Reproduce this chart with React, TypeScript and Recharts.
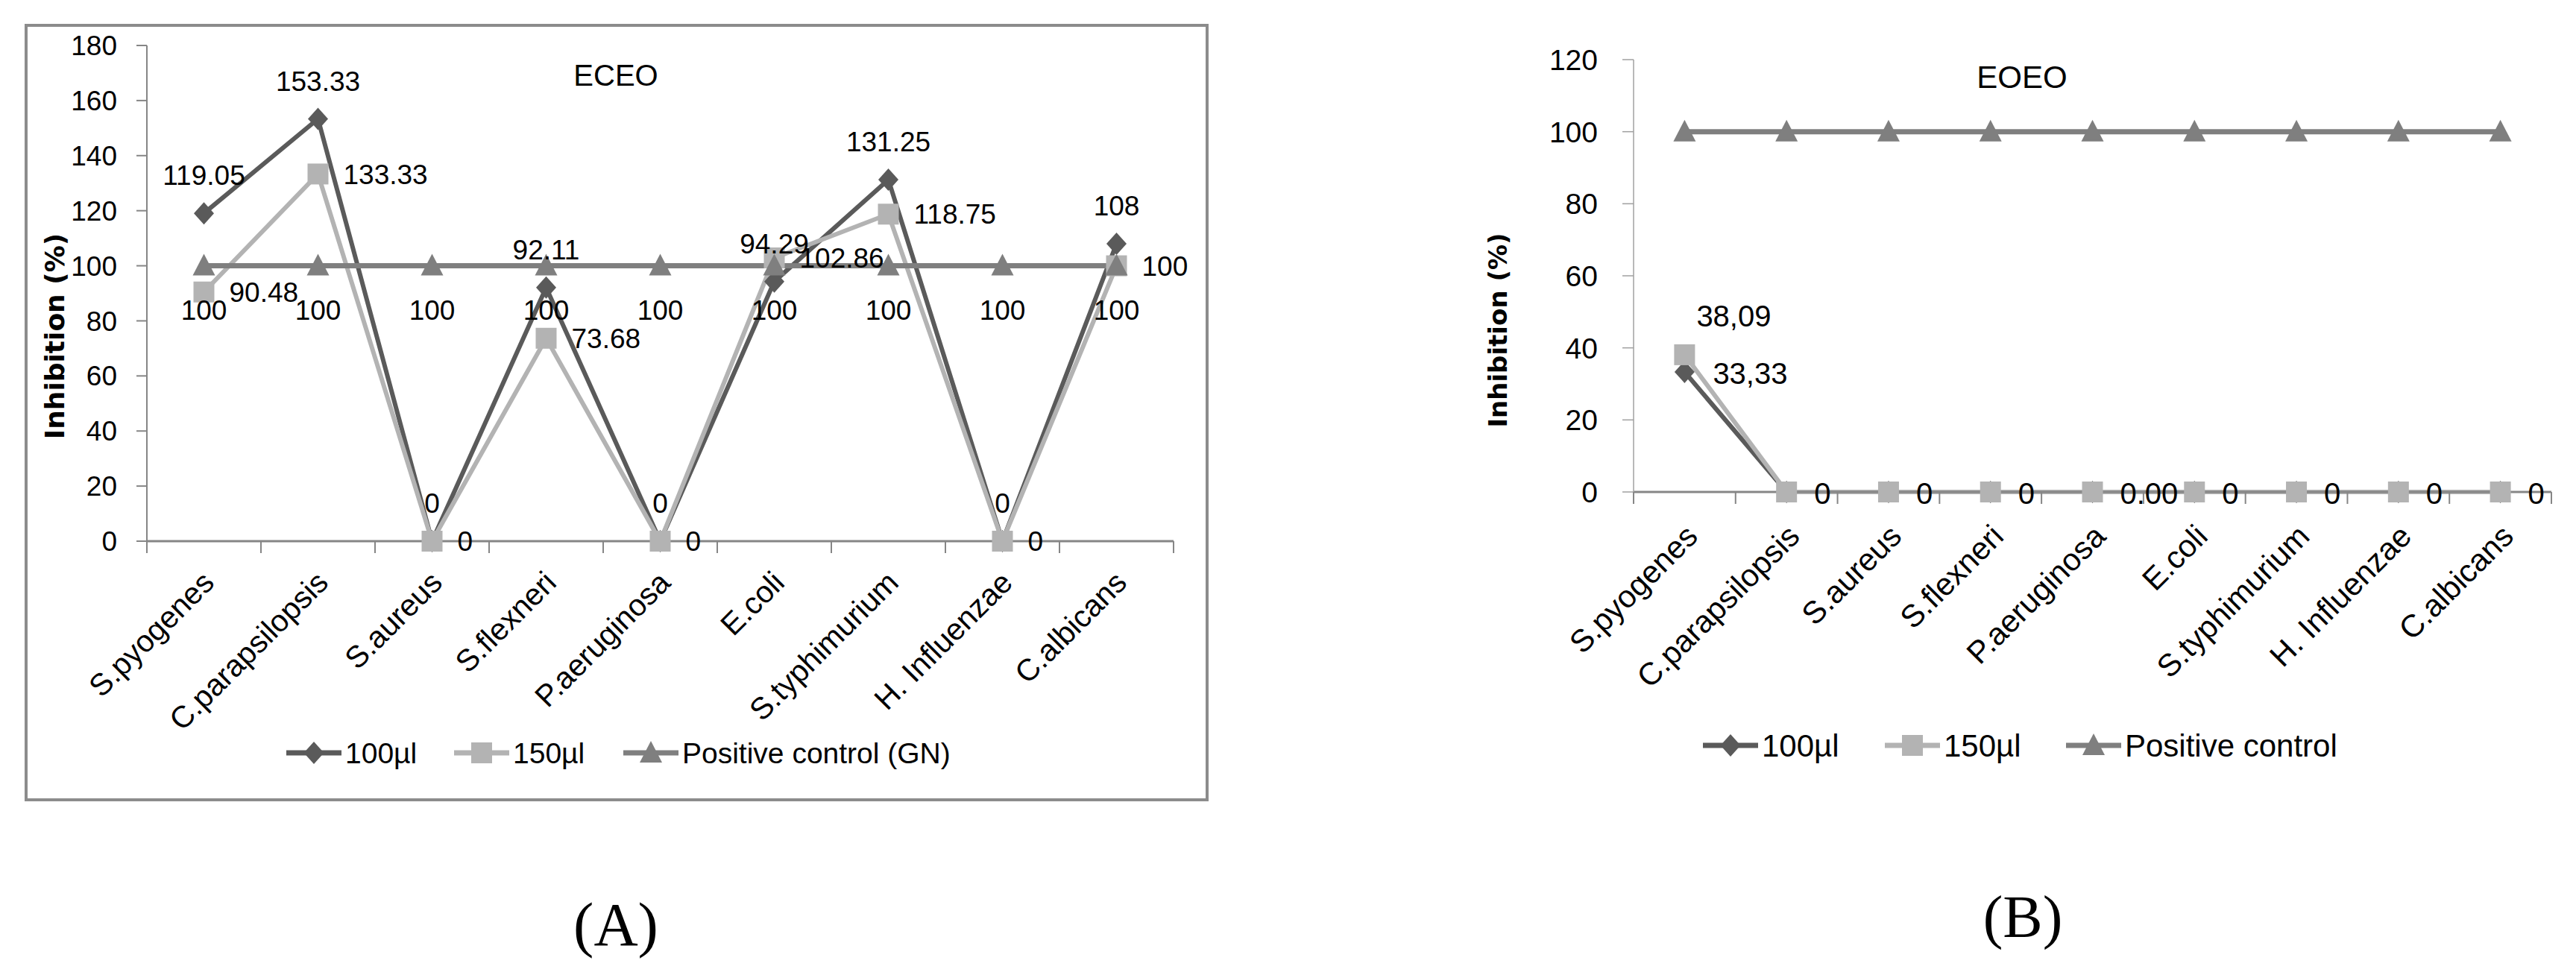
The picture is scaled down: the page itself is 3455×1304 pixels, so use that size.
import React from 'react';
import { LineChart, Line, XAxis, YAxis, LabelList } from 'recharts';

// ---- data ----
const categories = [
  'S.pyogenes',
  'C.parapsilopsis',
  'S.aureus',
  'S.flexneri',
  'P.aeruginosa',
  'E.coli',
  'S.typhimurium',
  'H. Influenzae',
  'C.albicans',
];

// ECEO inhibition (%)
const eceo100 = [119.05, 153.33, 0, 92.11, 0, 94.29, 131.25, 0, 108];
const eceo150 = [90.48, 133.33, 0, 73.68, 0, 102.86, 118.75, 0, 100];
const eceoControl = [100, 100, 100, 100, 100, 100, 100, 100, 100];
const eceoTicks = [0, 20, 40, 60, 80, 100, 120, 140, 160, 180];

// EOEO inhibition (%)
const eoeo100 = [33.33, 0, 0, 0, 0, 0, 0, 0, 0];
const eoeo150 = [38.09, 0, 0, 0, 0, 0, 0, 0, 0];
const eoeoControl = [100, 100, 100, 100, 100, 100, 100, 100, 100];
const eoeoTicks = [0, 20, 40, 60, 80, 100, 120];
const eoeo100Labels = ['33,33', '', '', '', '', '', '', '', ''];
const eoeo150Labels = ['', '0', '0', '0', '0.00', '0', '0', '0', '0'];
const eoeo150Callout = ['38,09', '', '', '', '', '', '', '', ''];

// ---- styling ----
const SANS = '"Liberation Sans", Arial, sans-serif';
const BOLD_SANS = '"DejaVu Sans", Verdana, sans-serif';
const SERIF = '"Liberation Serif", "Times New Roman", serif';
const DARK = '#5a5a5a';
const LIGHT = '#b3b3b3';
const MID = '#7f7f7f';
const AXIS = '#868686';

type Shape = 'diamond' | 'square' | 'triangle';

function Marker({ shape, cx, cy, color }: { shape: Shape; cx: number; cy: number; color: string }) {
  if (shape === 'diamond') {
    const r = 15;
    return <path d={`M${cx},${cy - r}L${cx + r * 0.9},${cy}L${cx},${cy + r}L${cx - r * 0.9},${cy}Z`} fill={color} />;
  }
  if (shape === 'square') {
    return <rect x={cx - 14} y={cy - 14} width={28} height={28} fill={color} />;
  }
  return <path d={`M${cx},${cy - 16}L${cx + 15},${cy + 13}L${cx - 15},${cy + 13}Z`} fill={color} />;
}

const renderDot = (shape: Shape, color: string) => (props: any) => {
  const { cx, cy, index } = props;
  if (cx == null || cy == null) return <g key={`${shape}-${index}`} />;
  return <Marker key={`${shape}-${index}`} shape={shape} cx={cx} cy={cy} color={color} />;
};

// category tick: rotated label plus boundary tick marks between categories
const makeCategoryTick = (step: number, fontSize: number, angle: number, dx: number, dy: number) => (props: any) => {
  const { x, y, payload, index } = props;
  const tx = x + dx;
  const ty = y + dy;
  const last = index === categories.length - 1;
  return (
    <g>
      <line x1={x - step / 2} y1={y} x2={x - step / 2} y2={y + 16} stroke={AXIS} strokeWidth={2} />
      {last && <line x1={x + step / 2} y1={y} x2={x + step / 2} y2={y + 16} stroke={AXIS} strokeWidth={2} />}
      <text
        x={tx}
        y={ty}
        textAnchor="end"
        fontSize={fontSize}
        fontFamily={SANS}
        fill="#000"
        transform={`rotate(${angle}, ${tx}, ${ty})`}
      >
        {payload.value}
      </text>
    </g>
  );
};

const pointOf = (p: any) => {
  const vb = p.viewBox || {};
  const x = p.x ?? vb.x;
  const y = p.y ?? vb.y;
  return { x: x as number, y: y as number };
};

const textLabel = (texts: string[], dx: number, dy: number, fontSize: number) => (p: any) => {
  const { x, y } = pointOf(p);
  const t = texts[p.index];
  if (!t || x == null || y == null) return null;
  return (
    <text x={x + dx} y={y + dy} fontSize={fontSize} fontFamily={SANS} fill="#000" dominantBaseline="central">
      {t}
    </text>
  );
};

// ---- layout (page pixels) ----
const A_W = 1650;
const A_H = 1100;
const A_PLOT = { left: 197, right: 1574, top: 61, bottom: 726 };
const A_STEP = (A_PLOT.right - A_PLOT.left) / categories.length;

const B_X = 1900;
const B_W = 1555;
const B_H = 1100;
const B_PLOT = { left: 291, right: 1522, top: 80, bottom: 660 };
const B_STEP = (B_PLOT.right - B_PLOT.left) / categories.length;

const Y_AXIS_W = 100;
const X_AXIS_H = 300;

const eceoData = categories.map((name, i) => ({
  name,
  v100: eceo100[i],
  v150: eceo150[i],
  ctrl: eceoControl[i],
}));

const eoeoData = categories.map((name, i) => ({
  name,
  v100: eoeo100[i],
  v150: eoeo150[i],
  ctrl: eoeoControl[i],
}));

const labelStyleA = { fontSize: 37, fill: '#000', fontFamily: SANS };

type LegendItem = { name: string; color: string; shape: Shape; x: number };

function LegendRow({ items, y, fontSize }: { items: LegendItem[]; y: number; fontSize: number }) {
  return (
    <g>
      {items.map((it) => (
        <g key={it.name}>
          <line x1={it.x - 37} y1={y} x2={it.x + 37} y2={y} stroke={it.color} strokeWidth={7} />
          <Marker shape={it.shape} cx={it.x} cy={y} color={it.color} />
          <text x={it.x + 42} y={y} fontSize={fontSize} fontFamily={SANS} fill="#000" dominantBaseline="central">
            {it.name}
          </text>
        </g>
      ))}
    </g>
  );
}

export default function App() {
  return (
    <div style={{ position: 'absolute', left: 0, top: 0, width: 3455, height: 1304, background: '#fff', overflow: 'hidden' }}>
      {/* frame around the ECEO chart */}
      <div
        style={{
          position: 'absolute',
          left: 33,
          top: 32,
          width: 1588,
          height: 1043,
          border: '4px solid #8c8c8c',
          boxSizing: 'border-box',
        }}
      />

      {/* ECEO */}
      <div style={{ position: 'absolute', left: 0, top: 0 }}>
        <LineChart
          width={A_W}
          height={A_H}
          data={eceoData}
          margin={{
            top: A_PLOT.top,
            left: A_PLOT.left - Y_AXIS_W,
            right: A_W - A_PLOT.right,
            bottom: A_H - A_PLOT.bottom - X_AXIS_H,
          }}
        >
          <XAxis
            dataKey="name"
            interval={0}
            height={X_AXIS_H}
            padding={{ left: A_STEP / 2, right: A_STEP / 2 }}
            tickLine={false}
            tickSize={0}
            tickMargin={0}
            axisLine={{ stroke: AXIS, strokeWidth: 3 }}
            tick={makeCategoryTick(A_STEP, 41, -45, 16, 58)}
          />
          <YAxis
            width={Y_AXIS_W}
            domain={[0, 180]}
            ticks={eceoTicks}
            interval={0}
            tickSize={14}
            tickMargin={26}
            axisLine={{ stroke: AXIS, strokeWidth: 2 }}
            tickLine={{ stroke: AXIS, strokeWidth: 2 }}
            tick={{ fontSize: 37, fill: '#000', fontFamily: SANS }}
          />
          <Line
            dataKey="v100"
            name="100µl"
            stroke={DARK}
            strokeWidth={6}
            dot={renderDot('diamond', DARK)}
            isAnimationActive={false}
          >
            <LabelList dataKey="v100" position="top" offset={38} {...labelStyleA} />
          </Line>
          <Line
            dataKey="v150"
            name="150µl"
            stroke={LIGHT}
            strokeWidth={6}
            dot={renderDot('square', LIGHT)}
            isAnimationActive={false}
          >
            <LabelList dataKey="v150" position="right" offset={34} {...labelStyleA} />
          </Line>
          <Line
            dataKey="ctrl"
            name="Positive control (GN)"
            stroke={MID}
            strokeWidth={7}
            dot={renderDot('triangle', MID)}
            isAnimationActive={false}
          >
            <LabelList dataKey="ctrl" position="bottom" offset={46} {...labelStyleA} />
          </Line>
        </LineChart>
      </div>

      {/* EOEO */}
      <div style={{ position: 'absolute', left: B_X, top: 0 }}>
        <LineChart
          width={B_W}
          height={B_H}
          data={eoeoData}
          margin={{
            top: B_PLOT.top,
            left: B_PLOT.left - Y_AXIS_W,
            right: B_W - B_PLOT.right,
            bottom: B_H - B_PLOT.bottom - X_AXIS_H,
          }}
        >
          <XAxis
            dataKey="name"
            interval={0}
            height={X_AXIS_H}
            padding={{ left: B_STEP / 2, right: B_STEP / 2 }}
            tickLine={false}
            tickSize={0}
            tickMargin={0}
            axisLine={{ stroke: AXIS, strokeWidth: 3 }}
            tick={makeCategoryTick(B_STEP, 42, -45, 20, 62)}
          />
          <YAxis
            width={Y_AXIS_W}
            domain={[0, 120]}
            ticks={eoeoTicks}
            interval={0}
            tickSize={15}
            tickMargin={33}
            axisLine={{ stroke: '#a0a0a0', strokeWidth: 1.5 }}
            tickLine={{ stroke: '#a0a0a0', strokeWidth: 1.5 }}
            tick={{ fontSize: 39, fill: '#000', fontFamily: SANS }}
          />
          <Line
            dataKey="v100"
            name="100µl"
            stroke={DARK}
            strokeWidth={6}
            dot={renderDot('diamond', DARK)}
            isAnimationActive={false}
          >
            <LabelList dataKey="v100" content={textLabel(eoeo100Labels, 38, 2, 40)} />
          </Line>
          <Line
            dataKey="v150"
            name="150µl"
            stroke={LIGHT}
            strokeWidth={6}
            dot={renderDot('square', LIGHT)}
            isAnimationActive={false}
          >
            <LabelList dataKey="v150" content={textLabel(eoeo150Labels, 37, 2, 40)} />
            <LabelList dataKey="v150" content={textLabel(eoeo150Callout, 16, -52, 40)} />
          </Line>
          <Line
            dataKey="ctrl"
            name="Positive control"
            stroke={MID}
            strokeWidth={7}
            dot={renderDot('triangle', MID)}
            isAnimationActive={false}
          />
        </LineChart>
      </div>

      {/* titles, axis titles, legends and panel letters */}
      <svg width={3455} height={1304} style={{ position: 'absolute', left: 0, top: 0, pointerEvents: 'none' }}>
        <text x={826} y={101} textAnchor="middle" dominantBaseline="central" fontSize={40} fontFamily={SANS} fill="#000">
          ECEO
        </text>
        <text x={2712} y={103} textAnchor="middle" dominantBaseline="central" fontSize={42} fontFamily={SANS} fill="#000">
          EOEO
        </text>
        <text
          x={73}
          y={451}
          textAnchor="middle"
          dominantBaseline="central"
          fontSize={36}
          fontWeight="bold"
          fontFamily={BOLD_SANS}
          fill="#000"
          transform="rotate(-90, 73, 451)"
        >
          Inhibition (%)
        </text>
        <text
          x={2009}
          y={443}
          textAnchor="middle"
          dominantBaseline="central"
          fontSize={34}
          fontWeight="bold"
          fontFamily={BOLD_SANS}
          fill="#000"
          transform="rotate(-90, 2009, 443)"
        >
          Inhibition (%)
        </text>

        <LegendRow
          y={1010}
          fontSize={39}
          items={[
            { name: '100µl', color: DARK, shape: 'diamond', x: 421 },
            { name: '150µl', color: LIGHT, shape: 'square', x: 646 },
            { name: 'Positive control (GN)', color: MID, shape: 'triangle', x: 873 },
          ]}
        />
        <LegendRow
          y={1000}
          fontSize={42}
          items={[
            { name: '100µl', color: DARK, shape: 'diamond', x: 2321 },
            { name: '150µl', color: LIGHT, shape: 'square', x: 2565 },
            { name: 'Positive control', color: MID, shape: 'triangle', x: 2808 },
          ]}
        />

        <text x={826} y={1268} textAnchor="middle" fontSize={82} fontFamily={SERIF} fill="#000">
          (A)
        </text>
        <text x={2713} y={1257} textAnchor="middle" fontSize={80} fontFamily={SERIF} fill="#000">
          (B)
        </text>
      </svg>
    </div>
  );
}
